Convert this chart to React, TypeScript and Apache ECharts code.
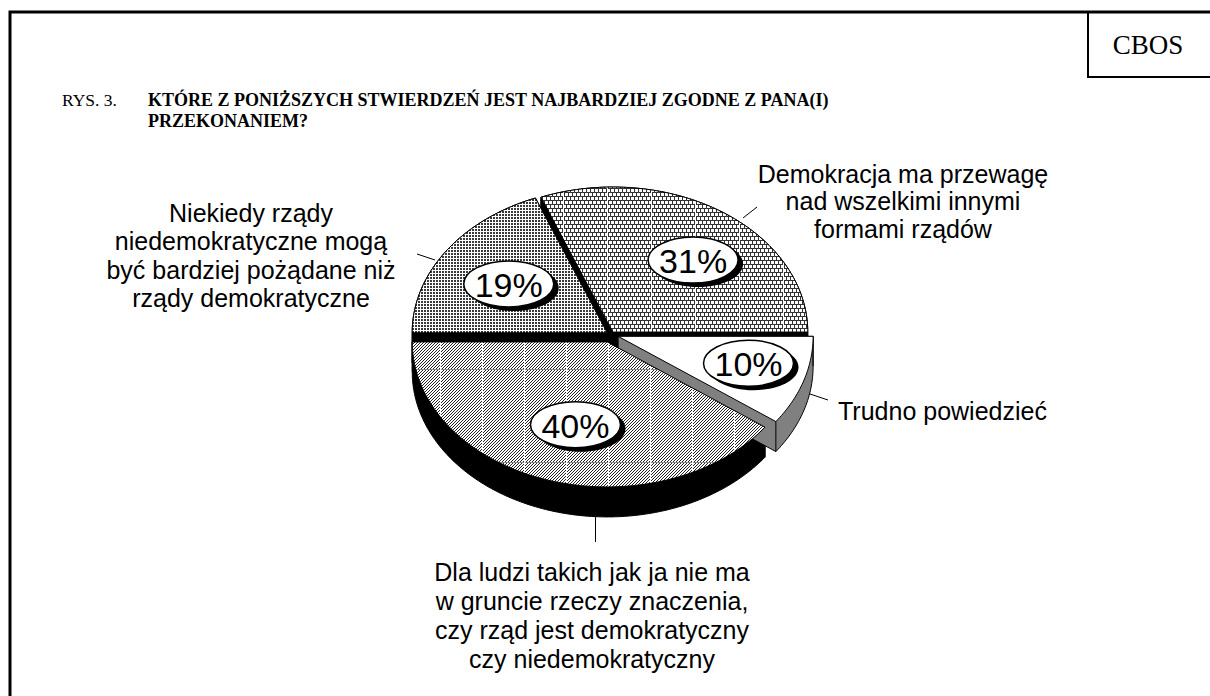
import React, { useEffect, useRef } from "react";
import * as echarts from "echarts";

// ---------- data ----------
const categories = [
  "Niekiedy rządy\nniedemokratyczne mogą\nbyć bardziej pożądane niż\nrządy demokratyczne",
  "Demokracja ma przewagę\nnad wszelkimi innymi\nformami rządów",
  "Trudno powiedzieć",
  "Dla ludzi takich jak ja nie ma\nw gruncie rzeczy znaczenia,\nczy rząd jest demokratyczny\nczy niedemokratyczny",
];
const values = [19, 31, 10, 40];
const percentLabels = ["19%", "31%", "10%", "40%"];
const figurePrefix = "RYS. 3.";
const titleLines = [
  "KTÓRE Z PONIŻSZYCH STWIERDZEŃ JEST NAJBARDZIEJ ZGODNE Z PANA(I)",
  "PRZEKONANIEM?",
];
const sourceLabel = "CBOS";

// ---------- layout / style ----------
const CX = 610.5;
const CY = 334.5;
const RX = 195;
const RY = 145;
const DEPTH = 30;
const START_ANGLE = 180;
const EXPLODE = [4, 4, 8, 10.5];
const SIDE_COLORS = ["#000000", "#000000", "#808080", "#000000"];
const SIDE_Z = [1, 2, 5, 4];
const LABEL_KX = 0.66;
const LABEL_KY = 0.6;
const LABEL_DX = 8;
const SANS = '"Liberation Sans", Arial, sans-serif';
const SERIF = '"Liberation Serif", "Times New Roman", serif';

function makeTile(w: number, h: number, fn: (x: number, y: number) => string | null) {
  const c = document.createElement("canvas");
  c.width = w;
  c.height = h;
  const ctx = c.getContext("2d")!;
  ctx.fillStyle = "#ffffff";
  ctx.fillRect(0, 0, w, h);
  for (let y = 0; y < h; y++) {
    for (let x = 0; x < w; x++) {
      const col = fn(x, y);
      if (col) {
        ctx.fillStyle = col;
        ctx.fillRect(x, y, 1, 1);
      }
    }
  }
  return { image: c.toDataURL(), repeat: "repeat", imageWidth: w, imageHeight: h };
}

function hull(pts: number[][]) {
  const p = pts.slice().sort((a, b) => (a[0] - b[0]) || (a[1] - b[1]));
  const cross = (o: number[], a: number[], b: number[]) =>
    (a[0] - o[0]) * (b[1] - o[1]) - (a[1] - o[1]) * (b[0] - o[0]);
  const lower: number[][] = [];
  for (const q of p) {
    while (lower.length >= 2 && cross(lower[lower.length - 2], lower[lower.length - 1], q) <= 0) lower.pop();
    lower.push(q);
  }
  const upper: number[][] = [];
  for (let i = p.length - 1; i >= 0; i--) {
    const q = p[i];
    while (upper.length >= 2 && cross(upper[upper.length - 2], upper[upper.length - 1], q) <= 0) upper.pop();
    upper.push(q);
  }
  upper.pop();
  lower.pop();
  return lower.concat(upper);
}

export default function App() {
  const ref = useRef<HTMLDivElement>(null);

  useEffect(() => {
    if (!ref.current) return;
    const chart = echarts.init(ref.current, null, { renderer: "svg" });

    const patterns: any[] = [
      // 19% fine grid
      makeTile(3, 3, (x, y) => (x % 3 !== 0 && y % 3 !== 0 ? "#3a3a3a" : null)),
      // 31% brick with white verticals
      makeTile(44, 8, (x, y) => {
        if (x === 35) return null;
        if (y % 4 === 0) return "#333333";
        const off = y % 8 < 4 ? 0 : 2;
        return x % 4 === off ? "#333333" : null;
      }),
      "#ffffff",
      // 40% diagonal hatch with white verticals & gray horizontals
      makeTile(42, 93, (x, y) => {
        if (x === 20) return null;
        if (y === 90) return "#888888";
        return (x + y) % 3 === 0 ? "#222222" : null;
      }),
    ];

    const total = values.reduce((s, v) => s + v, 0);
    const cumBefore = values.map((_, i) => values.slice(0, i).reduce((s, v) => s + v, 0));

    const renderItem = (params: any, api: any) => {
      const i = params.dataIndex;
      const v = api.value(0) as number;
      const a0 = START_ANGLE - (cumBefore[i] * 360) / total;
      const a1 = a0 - (v * 360) / total;
      const mid = (((a0 + a1) / 2) * Math.PI) / 180;
      const ox = EXPLODE[i] * Math.cos(mid);
      const oy = -EXPLODE[i] * Math.sin(mid) * (RY / RX);
      const cx = CX + ox;
      const cy = CY + oy;
      const pt = (deg: number, dz: number) => {
        const r = (deg * Math.PI) / 180;
        return [cx + RX * Math.cos(r), cy - RY * Math.sin(r) + dz];
      };
      const n = Math.ceil(Math.abs(a0 - a1)) + 1;
      const top: number[][] = [[cx, cy]];
      const bottom: number[][] = [[cx, cy + DEPTH]];
      for (let k = 0; k <= n; k++) {
        const d = a0 + ((a1 - a0) * k) / n;
        top.push(pt(d, 0));
        bottom.push(pt(d, DEPTH));
      }
      const side = hull(top.concat(bottom));
      const endA = pt(a0, 0);
      const endB = pt(a1, 0);
      const lx = cx + LABEL_KX * RX * Math.cos(mid) + LABEL_DX;
      const ly = cy - LABEL_KY * RY * Math.sin(mid);
      return {
        type: "group",
        children: [
          {
            type: "polygon",
            z2: SIDE_Z[i],
            shape: { points: side },
            style: { fill: SIDE_COLORS[i], stroke: "#000", lineWidth: 1 },
          },
          {
            type: "line",
            z2: SIDE_Z[i],
            shape: { x1: endA[0], y1: endA[1], x2: endA[0], y2: endA[1] + DEPTH },
            style: { stroke: "#000", lineWidth: 1 },
          },
          {
            type: "line",
            z2: SIDE_Z[i],
            shape: { x1: endB[0], y1: endB[1], x2: endB[0], y2: endB[1] + DEPTH },
            style: { stroke: "#000", lineWidth: 1 },
          },
          {
            type: "polygon",
            z2: 10,
            shape: { points: top },
            style: { fill: patterns[i], stroke: "#000", lineWidth: 1 },
          },
          {
            type: "ellipse",
            z2: 20,
            shape: { cx: lx + 5, cy: ly + 4, rx: 45, ry: 23 },
            style: { fill: "#000" },
          },
          {
            type: "ellipse",
            z2: 21,
            shape: { cx: lx, cy: ly, rx: 45, ry: 23 },
            style: { fill: "#fff", stroke: "#000", lineWidth: 1.5 },
          },
          {
            type: "text",
            z2: 22,
            x: lx,
            y: ly + 1,
            style: {
              text: percentLabels[i],
              font: `34px ${SANS}`,
              fill: "#000",
              align: "center",
              verticalAlign: "middle",
              textAlign: "center",
              textVerticalAlign: "middle",
            },
          },
        ],
      };
    };

    const textEl = (text: string, x: number, y: number, font: string, align = "center", lh = 28.5) => ({
      type: "text",
      x,
      y,
      silent: true,
      style: {
        text,
        font,
        fill: "#000",
        textAlign: align,
        textVerticalAlign: "middle",
        lineHeight: lh,
      },
    });

    const option: any = {
      animation: false,
      backgroundColor: "#ffffff",
      series: [
        {
          type: "custom",
          coordinateSystem: "none",
          silent: true,
          renderItem,
          data: values.map((v, i) => ({ value: [v], name: categories[i] })),
        },
      ],
      graphic: {
        elements: [
          // frame
          {
            type: "polyline",
            shape: { points: [[10, 700], [10, 12], [1212, 12]] },
            style: { stroke: "#000", lineWidth: 3, fill: null },
          },
          {
            type: "polyline",
            shape: { points: [[1088, 12], [1088, 77], [1212, 77]] },
            style: { stroke: "#000", lineWidth: 2, fill: null },
          },
          textEl(sourceLabel, 1148, 45, `27px ${SERIF}`),
          textEl(figurePrefix, 62, 100, `17.5px ${SERIF}`, "left"),
          textEl(titleLines[0], 148, 100, `bold 18px ${SERIF}`, "left"),
          textEl(titleLines[1], 148, 121, `bold 18px ${SERIF}`, "left"),
          // leader lines
          { type: "line", shape: { x1: 417, y1: 254, x2: 435, y2: 260 }, style: { stroke: "#000", lineWidth: 1 } },
          { type: "line", shape: { x1: 743, y1: 218, x2: 757, y2: 207 }, style: { stroke: "#000", lineWidth: 1 } },
          { type: "line", shape: { x1: 807, y1: 393, x2: 828, y2: 400 }, style: { stroke: "#000", lineWidth: 1 } },
          { type: "line", shape: { x1: 595.5, y1: 517, x2: 595.5, y2: 542 }, style: { stroke: "#000", lineWidth: 1 } },
          // category labels
          textEl(categories[0], 251, 255.5, `25px ${SANS}`),
          textEl(categories[1], 903, 201, `25px ${SANS}`, "center", 27.5),
          textEl(categories[2], 838, 411, `25px ${SANS}`, "left"),
          textEl(categories[3], 592, 615.5, `25px ${SANS}`, "center", 29),
        ],
      },
    };

    chart.setOption(option);
    return () => chart.dispose();
  }, []);

  return (
    <div
      ref={ref}
      style={{ position: "fixed", left: 0, top: 0, width: 1210, height: 696, background: "#fff" }}
    />
  );
}
